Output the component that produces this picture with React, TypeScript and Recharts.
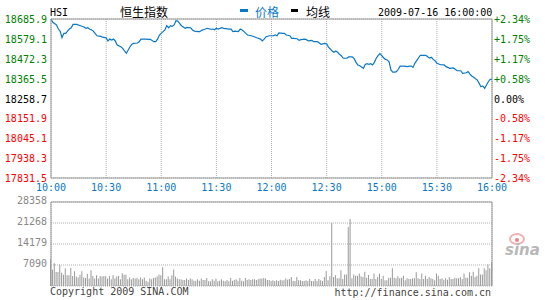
import { LineChart, Line, BarChart, Bar, XAxis, YAxis, CartesianGrid, ReferenceLine } from "recharts";

// HSI intraday, 2009-07-16 (minutes from 10:00, lunch break folded out)
const timeTicks = [0, 30, 60, 90, 120, 150, 180, 210, 240];
const timeLabels = ["10:00", "10:30", "11:00", "11:30", "12:00", "12:30", "15:00", "15:30", "16:00"];
const prevClose = 18258.7;
const priceTicks = [17831.5, 17938.3, 18045.1, 18151.9, 18258.7, 18365.5, 18472.3, 18579.1, 18685.9];
const pctLabels = ["-2.34%", "-1.75%", "-1.17%", "-0.58%", "0.00%", "+0.58%", "+1.17%", "+1.75%", "+2.34%"];
const volTicks = [0, 7090, 14179, 21268, 28358];

const priceMinutes = [
  0, 1, 3, 4, 5, 6, 7, 8, 9, 10, 11, 12, 14, 16, 18, 19, 20, 21, 22, 23, 24, 25, 27, 28, 30, 31, 32, 33, 34, 35,
  36, 38, 39, 40, 41, 42, 43, 44, 45, 47, 48, 49, 51, 54, 56, 57, 58, 59, 61, 62, 63, 64, 65, 66, 67, 68, 69, 70,
  71, 73, 74, 76, 77, 78, 80, 81, 82, 84, 85, 87, 88, 89, 90, 91, 93, 94, 97, 98, 99, 100, 102, 103, 104, 105, 106,
  107, 109, 111, 112, 114, 115, 116, 117, 119, 121, 122, 123, 124, 126, 127, 128, 130, 131, 132, 134, 135, 136, 138,
  139, 140, 142, 143, 145, 146, 147, 149, 150, 151, 152, 153, 154, 155, 156, 157, 158, 159, 161, 162, 164, 165, 166,
  167, 168, 169, 170, 171, 172, 173, 174, 175, 176, 177, 178, 179, 180, 181, 182, 183, 184, 185, 186, 187, 188, 189,
  190, 192, 194, 195, 196, 197, 198, 199, 201, 204, 205, 206, 207, 208, 209, 210, 212, 214, 215, 217, 219, 220, 221,
  223, 224, 226, 227, 228, 229, 230, 232, 233, 234, 235, 236, 237, 238, 239, 240,
];
const prices = [
  18686, 18668, 18654, 18632, 18620, 18586, 18609, 18609, 18621, 18632, 18639, 18657, 18657, 18650, 18643, 18636,
  18639, 18632, 18628, 18621, 18609, 18596, 18593, 18589, 18585, 18568, 18578, 18573, 18578, 18568, 18546, 18537,
  18528, 18514, 18502, 18519, 18537, 18550, 18555, 18557, 18564, 18578, 18578, 18577, 18564, 18564, 18578, 18600,
  18618, 18627, 18650, 18639, 18650, 18647, 18654, 18677, 18675, 18663, 18650, 18636, 18641, 18639, 18627, 18621,
  18618, 18618, 18625, 18632, 18636, 18631, 18632, 18628, 18636, 18632, 18639, 18636, 18632, 18632, 18618, 18621,
  18618, 18632, 18627, 18618, 18609, 18600, 18596, 18589, 18585, 18578, 18568, 18578, 18591, 18596, 18596, 18600,
  18596, 18611, 18609, 18609, 18600, 18596, 18582, 18582, 18580, 18571, 18575, 18578, 18575, 18568, 18571, 18564,
  18564, 18557, 18550, 18555, 18553, 18535, 18525, 18514, 18507, 18514, 18507, 18496, 18489, 18475, 18475, 18482,
  18483, 18473, 18453, 18439, 18435, 18428, 18421, 18442, 18446, 18442, 18446, 18439, 18453, 18475, 18489, 18500,
  18489, 18478, 18469, 18466, 18456, 18412, 18401, 18401, 18403, 18416, 18433, 18433, 18430, 18433, 18433, 18426,
  18448, 18462, 18491, 18491, 18483, 18476, 18480, 18469, 18462, 18448, 18440, 18439, 18430, 18421, 18423, 18416,
  18408, 18408, 18394, 18397, 18403, 18390, 18380, 18373, 18358, 18340, 18322, 18326, 18313, 18331, 18349, 18362,
  18362,
];

const volumes = [
  9000, 5600, 7700, 4700, 4700, 7200, 4500, 3800, 5900, 3600,
  3600, 6100, 3400, 5000, 3200, 2900, 3800, 5000, 2900, 2700,
  4100, 2500, 5300, 3400, 2500, 3600, 2500, 3400, 3200, 3400,
  3300, 2500, 3400, 2300, 3600, 2500, 3200, 3400, 2300, 4300,
  3800, 3800, 2300, 2900, 2300, 2700, 2500, 2700, 2300, 2900,
  2300, 2900, 1800, 1400, 2500, 2300, 2700, 2900, 3200, 3800,
  3600, 6300, 2300, 2300, 3200, 2300, 3600, 5600, 3200, 2500,
  2300, 2300, 2000, 2000, 2500, 2000, 2500, 2300, 1800, 1800,
  2300, 1800, 2500, 2000, 2000, 2700, 1600, 1600, 2300, 1800,
  2500, 1600, 1800, 2300, 1800, 1600, 2000, 1600, 2700, 1800,
  2000, 2300, 1800, 2700, 1800, 1600, 2700, 2000, 2300, 2000,
  2300, 2300, 2000, 2300, 2500, 2500, 2700, 2500, 2000, 2000,
  1700, 1900, 1700, 1900, 1700, 2100, 1900, 1900, 2500, 2100,
  2400, 3000, 1700, 1700, 3000, 1900, 1900, 1700, 1700, 1900,
  1700, 2400, 1700, 1700, 2400, 1700, 2400, 1900, 1700, 3000,
  5100, 1900, 3300, 21300, 3000, 3600, 2600, 2600, 5300, 2400,
  3900, 3900, 19900, 22600, 2600, 3900, 3500, 3500, 4200, 3300,
  3000, 4800, 2800, 3700, 2400, 2400, 4200, 2400, 3000, 4200,
  2400, 3500, 1900, 1900, 2800, 2800, 6000, 2800, 2600, 3300,
  2600, 2800, 3500, 1900, 2600, 2400, 2400, 2600, 2600, 4600,
  2600, 2400, 4200, 2400, 3500, 2400, 3000, 2600, 2400, 1900,
  4200, 3500, 2400, 2600, 2100, 2600, 2100, 3000, 2400, 2400,
  2800, 2600, 2600, 3000, 2400, 4200, 2800, 2800, 4600, 3500,
  4800, 3000, 3500, 6000, 3900, 3900, 6000, 5300, 7300, 6000, 8000,
];

const priceData = priceMinutes.map((t, i) => ({ t, price: prices[i] }));
const volumeData = volumes.map((vol, t) => ({ t, vol }));

const MONO = "'DejaVu Sans Mono', monospace";
const CJK = "'Noto Sans CJK SC', sans-serif";
const GREEN = "#008000";
const RED = "#ff0000";
const BLUE = "#0a78c8";
const GRID = "#b0b0b0";
const BORDER = "#999999";

const PriceTick = (props: any) => {
  const { x, y, payload } = props;
  const v = payload.value;
  const fill = v > prevClose + 0.05 ? GREEN : v < prevClose - 0.05 ? RED : "#000";
  return (
    <text x={x - 4} y={y} dy={4} textAnchor="end" fill={fill} fontFamily={MONO} fontSize={10}>
      {v.toFixed(1)}
    </text>
  );
};

const PctTick = (props: any) => {
  const { x, y, payload } = props;
  const idx = priceTicks.indexOf(payload.value);
  const label = pctLabels[idx] ?? "";
  const fill = idx > 4 ? GREEN : idx < 4 ? RED : "#000";
  return (
    <text x={x + 2} y={y} dy={4} textAnchor="start" fill={fill} fontFamily={MONO} fontSize={10}>
      {label}
    </text>
  );
};

const TimeTick = (props: any) => {
  const { x, y, payload } = props;
  const idx = timeTicks.indexOf(payload.value);
  return (
    <text x={x} y={y} dy={13} textAnchor="middle" fill={BLUE} fontFamily={MONO} fontSize={10}>
      {timeLabels[idx]}
    </text>
  );
};

const VolTick = (props: any) => {
  const { x, y, payload } = props;
  if (payload.value === 0) return <g />;
  return (
    <text x={x - 4} y={y} dy={2} textAnchor="end" fill="#888" fontFamily={MONO} fontSize={10}>
      {payload.value}
    </text>
  );
};

export default function App() {
  return (
    <div style={{ position: "absolute", left: 0, top: 0, width: 545, height: 300, background: "#fff" }}>
      <svg width={545} height={20} style={{ position: "absolute", left: 0, top: 0 }}>
        <text x={50} y={16} fontFamily={MONO} fontSize={10} fill="#000">HSI</text>
        <text x={120} y={16.5} fontFamily={CJK} fontSize={12} fill="#000">恒生指数</text>
        <rect x={240} y={9} width={8} height={3} fill={BLUE} />
        <text x={255} y={16.5} fontFamily={CJK} fontSize={12} fill={BLUE}>价格</text>
        <rect x={291} y={9} width={7} height={3} fill="#000" />
        <text x={306} y={16.5} fontFamily={CJK} fontSize={12} fill="#000">均线</text>
        <text x={378} y={16} fontFamily={MONO} fontSize={10} fill="#000">2009-07-16 16:00:00</text>
      </svg>

      <div style={{ position: "absolute", left: 0, top: 0 }}>
        <LineChart width={545} height={196} data={priceData} margin={{ top: 19, right: 0, bottom: 0, left: 0 }}>
          <CartesianGrid stroke={GRID} strokeDasharray="1 1" ticks={timeTicks} />
          <XAxis
            dataKey="t"
            type="number"
            domain={[0, 240]}
            ticks={timeTicks}
            height={18}
            tickSize={0}
            tickMargin={0}
            axisLine={{ stroke: BORDER }}
            tick={<TimeTick />}
            interval={0}
          />
          <YAxis
            yAxisId="l"
            orientation="left"
            width={51}
            domain={[priceTicks[0], priceTicks[8]]}
            ticks={priceTicks}
            tickSize={0}
            tickMargin={0}
            axisLine={{ stroke: BORDER }}
            tick={<PriceTick />}
            interval={0}
          />
          <YAxis
            yAxisId="r"
            orientation="right"
            width={53}
            domain={[priceTicks[0], priceTicks[8]]}
            ticks={priceTicks}
            tickSize={0}
            tickMargin={0}
            axisLine={{ stroke: BORDER }}
            tick={<PctTick />}
            interval={0}
          />
          <ReferenceLine yAxisId="l" y={priceTicks[8]} stroke={BORDER} />
          <Line yAxisId="r" dataKey="price" stroke="none" dot={false} isAnimationActive={false} />
          <Line
            yAxisId="l"
            dataKey="price"
            type="linear"
            stroke={BLUE}
            strokeWidth={1.2}
            dot={false}
            isAnimationActive={false}
          />
        </LineChart>
      </div>

      <div style={{ position: "absolute", left: 0, top: 196 }}>
        <BarChart width={545} height={104} data={volumeData} margin={{ top: 6, right: 53, bottom: 14, left: 0 }}>
          <CartesianGrid stroke={GRID} strokeDasharray="1 1" />
          <XAxis
            dataKey="t"
            type="number"
            domain={[0, 240]}
            ticks={timeTicks}
            height={0}
            tick={false}
            tickSize={0}
            axisLine={{ stroke: BORDER }}
          />
          <YAxis
            width={51}
            domain={[0, volTicks[4]]}
            ticks={volTicks}
            tickSize={0}
            tickMargin={0}
            axisLine={{ stroke: BORDER }}
            tick={<VolTick />}
            interval={0}
          />
          <ReferenceLine y={volTicks[4]} stroke={BORDER} />
          <ReferenceLine x={240} stroke={BORDER} />
          <Bar dataKey="vol" fill="#999999" barSize={1} isAnimationActive={false} />
        </BarChart>
      </div>

      <div
        style={{
          position: "absolute",
          left: 50,
          top: 286,
          fontFamily: MONO,
          fontSize: 10,
          lineHeight: "12px",
          color: "#444",
          whiteSpace: "nowrap",
        }}
      >
        Copyright 2009 SINA.COM
      </div>
      <div
        style={{
          position: "absolute",
          right: 54,
          top: 287,
          fontFamily: MONO,
          fontSize: 10,
          lineHeight: "12px",
          color: "#444",
          whiteSpace: "nowrap",
        }}
      >
        http://finance.sina.com.cn
      </div>

      <svg width={40} height={30} style={{ position: "absolute", left: 503, top: 232 }}>
        <ellipse cx={14} cy={7} rx={7} ry={5} fill="none" stroke="#f4b0b0" strokeWidth={2} />
        <circle cx={14} cy={8} r={2} fill="#f08080" />
        <text x={2} y={23} fontFamily="'DejaVu Sans', sans-serif" fontSize={15} fontStyle="italic" fontWeight="bold" fill="#b8b8b8">
          sina
        </text>
      </svg>
    </div>
  );
}
